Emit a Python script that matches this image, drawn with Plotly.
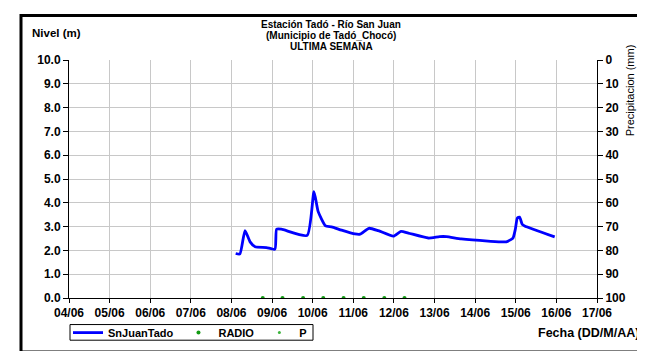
import plotly.graph_objects as go

# ---- data ----
level_times = [
    "2023-06-08 02:30", "2023-06-08 05:00", "2023-06-08 08:00", "2023-06-08 11:00",
    "2023-06-08 14:00", "2023-06-08 20:40", "2023-06-09 01:40", "2023-06-09 02:40",
    "2023-06-09 05:30", "2023-06-09 20:45", "2023-06-10 00:45", "2023-06-10 03:15",
    "2023-06-10 07:35", "2023-06-10 11:10", "2023-06-10 17:05", "2023-06-11 01:00",
    "2023-06-11 04:00", "2023-06-11 09:15", "2023-06-11 14:45", "2023-06-11 23:40",
    "2023-06-12 04:10", "2023-06-12 08:30", "2023-06-12 20:20", "2023-06-13 03:00",
    "2023-06-13 07:00", "2023-06-13 15:45", "2023-06-14 07:35", "2023-06-14 18:25",
    "2023-06-14 22:20", "2023-06-14 23:45", "2023-06-15 00:55", "2023-06-15 02:15",
    "2023-06-15 03:50", "2023-06-15 05:15", "2023-06-15 23:00",
]
level_values = [
    1.87, 1.85, 2.83, 2.36,
    2.15, 2.12, 2.05, 2.89,
    2.89, 2.63, 4.47, 3.63,
    3.03, 2.99, 2.85, 2.69,
    2.68, 2.93, 2.83, 2.60,
    2.80, 2.73, 2.52, 2.58,
    2.58, 2.48, 2.39, 2.36,
    2.52, 2.89, 3.36, 3.40,
    3.09, 3.03, 2.57,
]
radio_times = [
    "2023-06-08 18:30", "2023-06-09 06:10", "2023-06-09 18:20", "2023-06-10 06:15",
    "2023-06-10 18:15", "2023-06-11 06:10", "2023-06-11 18:20", "2023-06-12 06:15",
]
radio_values = [0, 0, 0, 0, 0, 0, 0, 0]
# precipitation (right axis, mm): no readings visible in the week shown
p_times = list(radio_times)
p_values = [None, None, None, None, None, None, None, None]

x_range = ["2023-06-04", "2023-06-17"]
title_lines = ["Estación Tadó - Río San Juan", "(Municipio de Tadó_Chocó)", "ULTIMA SEMANA"]

# ---- layout geometry (pixels) ----
W, H = 645, 351
L, R, T, B = 61, 56, 52, 48
PW, PH = W - L - R, H - T - B

def xp(px):
    return (px - L) / PW

def yp(py):
    return (H - B - py) / PH

FONT = "Liberation Sans, Arial, sans-serif"

fig = go.Figure()
fig.add_trace(go.Scatter(
    x=level_times, y=level_values, mode="lines", name="SnJuanTado",
    line=dict(color="#0000ff", width=2.8, shape="spline", smoothing=0.5),
))
fig.add_trace(go.Scatter(
    x=radio_times, y=radio_values, mode="markers", name="RADIO",
    marker=dict(color="#139a13", size=4),
))
fig.add_trace(go.Scatter(
    x=p_times, y=p_values, mode="markers", name="P", yaxis="y2",
    marker=dict(color="#3cb43c", size=3),
))

fig.update_layout(
    width=W, height=H,
    margin=dict(l=L, r=R, t=T, b=B, pad=0),
    paper_bgcolor="white", plot_bgcolor="white",
    font=dict(family=FONT, size=12, color="black", weight="bold"),
    showlegend=True,
    legend=dict(
        orientation="h", x=xp(60), y=yp(339.5), xanchor="left", yanchor="middle",
        borderwidth=0, bgcolor="rgba(0,0,0,0)",
        font=dict(size=11, family=FONT, weight="bold"),
        itemwidth=30, tracegroupgap=0,
    ),
    xaxis=dict(
        type="date", range=x_range, dtick=86400000, tickformat="%d/%m",
        showgrid=True, gridcolor="#c8c8c8", gridwidth=1,
        showline=True, linecolor="black", linewidth=1,
        ticks="outside", ticklen=4, tickcolor="black",
        tickfont=dict(size=12, family=FONT, weight="bold"),
        zeroline=False, fixedrange=True,
    ),
    yaxis=dict(
        range=[0, 10], dtick=1, tickformat=".1f",
        showgrid=True, gridcolor="#c8c8c8", gridwidth=1,
        showline=True, linecolor="black", linewidth=1,
        ticks="outside", ticklen=5, tickcolor="black",
        tickfont=dict(size=12, family=FONT, weight="bold"),
        zeroline=False, fixedrange=True,
    ),
    yaxis2=dict(
        range=[100, 0], dtick=10, overlaying="y", side="right",
        showgrid=False, showline=True, linecolor="black", linewidth=1,
        ticks="outside", ticklen=5, tickcolor="black",
        tickfont=dict(size=12, family=FONT, weight="bold"),
        zeroline=False, fixedrange=True,
    ),
)

annotations = []
for i, line in enumerate(title_lines):
    annotations.append(dict(
        text=line, x=xp(323), y=yp(15 + 11.5 * i), xref="paper", yref="paper",
        showarrow=False, xanchor="center", yanchor="middle",
        font=dict(size=10, family=FONT, weight="bold"),
    ))
annotations.append(dict(
    text="Nivel (m)", x=xp(22), y=yp(23), xref="paper", yref="paper",
    showarrow=False, xanchor="left", yanchor="middle",
    font=dict(size=11.5, family=FONT, weight="bold"),
))
annotations.append(dict(
    text="Fecha (DD/M/AA)", x=xp(633), y=yp(340), xref="paper", yref="paper",
    showarrow=False, xanchor="right", yanchor="middle",
    font=dict(size=12.5, family=FONT, weight="bold"),
))
annotations.append(dict(
    text="Precipitacion (mm)", x=xp(622), y=yp(84), xref="paper", yref="paper",
    showarrow=False, xanchor="center", yanchor="middle", textangle=-90,
    font=dict(size=11, family=FONT, weight="normal"),
))
fig.update_layout(annotations=annotations)

# outer chart frame
fig.add_shape(
    type="rect", xref="paper", yref="paper",
    x0=xp(13), x1=xp(641), y0=yp(360), y1=yp(5),
    line=dict(color="black", width=3), fillcolor="rgba(0,0,0,0)", layer="below",
)
# legend frame
fig.add_shape(
    type="rect", xref="paper", yref="paper",
    x0=xp(62), x1=xp(305), y0=yp(347.5), y1=yp(331),
    line=dict(color="black", width=1), fillcolor="rgba(0,0,0,0)", layer="below",
)

fig.write_html("out.html")
